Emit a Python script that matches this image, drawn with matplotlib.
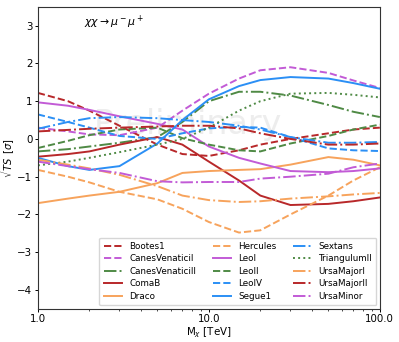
import matplotlib
matplotlib.use("Agg")
import matplotlib.pyplot as plt
import numpy as np

mass = [1, 1.5, 2, 3, 5, 7, 10, 15, 20, 30, 50, 70, 100]

Bootes1 = [1.22, 1.0, 0.75, 0.35, -0.15, -0.4, -0.45, -0.3, -0.15, 0.0, 0.15, 0.25, 0.3]
CanesVenaticiI = [0.3, 0.2, 0.12, 0.1, 0.3, 0.75, 1.2, 1.6, 1.82, 1.9, 1.75, 1.55, 1.35]
CanesVenaticiII = [-0.33, -0.27, -0.2, -0.1, 0.05, 0.45, 1.0, 1.25, 1.25, 1.15, 0.9, 0.72, 0.58]
ComaB = [-0.47, -0.4, -0.33, -0.15, 0.05, -0.15, -0.6, -1.1, -1.5, -1.75, -1.72, -1.65, -1.55]
Draco = [-1.7, -1.58, -1.5, -1.4, -1.17, -0.9, -0.85, -0.82, -0.8, -0.68, -0.48, -0.55, -0.7]
Hercules = [-0.82, -1.0, -1.15, -1.4, -1.6, -1.85, -2.2, -2.48, -2.42, -2.0, -1.5, -1.1, -0.75]
LeoI = [0.97, 0.88, 0.77, 0.6, 0.4, 0.25, -0.2, -0.5, -0.65, -0.85, -0.88, -0.85, -0.78]
LeoII = [-0.24, -0.05, 0.1, 0.25, 0.3, 0.02, -0.15, -0.3, -0.33, -0.12, 0.08, 0.25, 0.38]
LeoIV = [0.65, 0.45, 0.3, 0.08, 0.0, 0.15, 0.28, 0.32, 0.3, 0.05, -0.25, -0.3, -0.32]
Segue1 = [-0.5, -0.72, -0.82, -0.72, -0.12, 0.5, 1.05, 1.4, 1.56, 1.64, 1.6, 1.48, 1.33]
Sextans = [0.27, 0.45, 0.55, 0.58, 0.55, 0.5, 0.45, 0.35, 0.25, 0.05, -0.1, -0.1, -0.08]
TriangulumII = [-0.7, -0.6, -0.5, -0.35, -0.15, 0.0, 0.3, 0.75, 1.0, 1.2, 1.22, 1.17, 1.1]
UrsaMajorI = [-0.55, -0.68, -0.78, -0.95, -1.25, -1.5, -1.62, -1.67, -1.65, -1.58, -1.52, -1.47, -1.43]
UrsaMajorII = [0.2, 0.24, 0.27, 0.3, 0.33, 0.35, 0.35, 0.28, 0.15, 0.0, -0.15, -0.15, -0.12]
UrsaMinor = [-0.6, -0.72, -0.8, -0.9, -1.12, -1.15, -1.14, -1.14, -1.05, -1.0, -0.92, -0.75, -0.65]

names = ["Bootes1", "CanesVenaticiI", "CanesVenaticiII", "ComaB", "Draco",
         "Hercules", "LeoI", "LeoII", "LeoIV", "Segue1",
         "Sextans", "TriangulumII", "UrsaMajorI", "UrsaMajorII", "UrsaMinor"]
series = [Bootes1, CanesVenaticiI, CanesVenaticiII, ComaB, Draco,
          Hercules, LeoI, LeoII, LeoIV, Segue1,
          Sextans, TriangulumII, UrsaMajorI, UrsaMajorII, UrsaMinor]

red = "#b8282a"
purple = "#c25bd6"
green = "#4f8a45"
orange = "#f7a35c"
blue = "#2b8ff5"
styles = [(red, "--"), (purple, "--"), (green, "-."), (red, "-"), (orange, "-"),
          (orange, "--"), (purple, "-"), (green, "--"), (blue, "--"), (blue, "-"),
          (blue, "-."), (green, ":"), (orange, "-."), (red, "-."), (purple, "-.")]

fig = plt.figure(figsize=(3.99, 3.42), dpi=100)
ax = fig.add_axes([0.095, 0.097, 0.857, 0.883])

ax.text(0.44, 0.61, "Preliminary", transform=ax.transAxes, fontsize=24,
        color="#ededed", ha="center", va="center", zorder=0)

for name, vals, (c, ls) in zip(names, series, styles):
    ax.plot(mass, vals, color=c, ls=ls, lw=1.4, label=name)

ax.set_xscale("log")
ax.set_xlim(1, 100)
ax.set_ylim(-4.5, 3.5)
ax.set_xticks([1, 10, 100])
ax.set_xticklabels(["1.0", "10.0", "100.0"])
ax.set_yticks([-4, -3, -2, -1, 0, 1, 2, 3])
ax.set_yticklabels(["\u22124", "\u22123", "\u22122", "\u22121", "0", "1", "2", "3"])
ax.tick_params(which="major", labelsize=7.4, length=2.5, width=0.7, pad=1.5)
ax.tick_params(which="minor", length=1.5, width=0.5)
for s in ax.spines.values():
    s.set_linewidth(0.8)
    s.set_color("#333333")
ax.set_xlabel(r"M$_\chi$ [TeV]", fontsize=7.4, labelpad=1)
ax.set_ylabel(r"$\sqrt{TS}$ [$\sigma$]", fontsize=7.2)
ax.yaxis.set_label_coords(-0.061, 0.5)
ax.text(0.222, 0.947, r"$\chi\chi \rightarrow \mu^-\mu^+$", transform=ax.transAxes,
        fontsize=7.8, ha="center", va="center")

ax.legend(ncol=3, loc="lower right", fontsize=6.3, handlelength=2.1,
          columnspacing=1.9, labelspacing=0.4, borderpad=0.5, handletextpad=0.8,
          borderaxespad=0.4)

fig.savefig("out.png", dpi=100)
